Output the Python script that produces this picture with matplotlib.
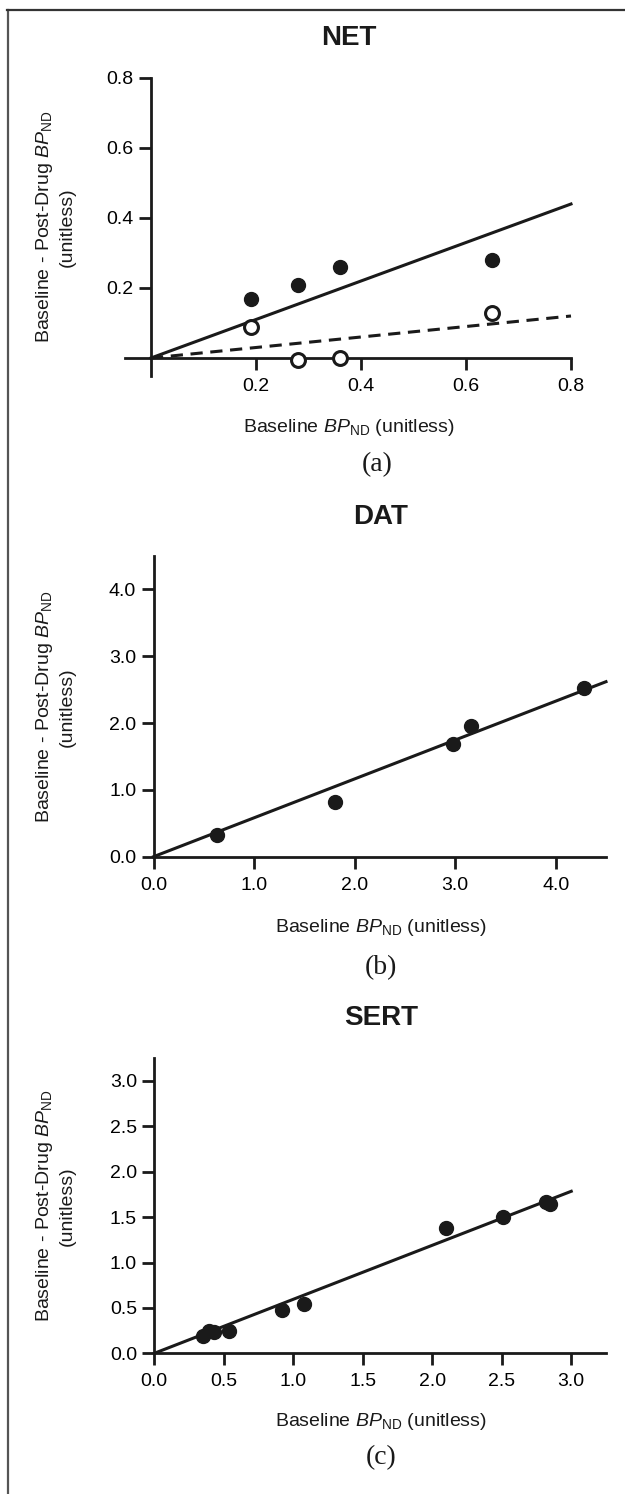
import matplotlib
matplotlib.use("Agg")
import matplotlib.pyplot as plt
from matplotlib.lines import Line2D
import numpy as np

plt.rcParams['font.family'] = ['Liberation Sans', 'DejaVu Sans']
plt.rcParams['mathtext.fontset'] = 'custom'
plt.rcParams['mathtext.rm'] = 'Liberation Sans'
plt.rcParams['mathtext.it'] = 'Liberation Sans:italic'

# NET (a)
net_x_filled = [0.19, 0.28, 0.36, 0.65]
net_y_filled = [0.17, 0.21, 0.26, 0.28]
net_x_open = [0.19, 0.28, 0.36, 0.65]
net_y_open = [0.09, -0.005, 0.0, 0.13]
net_slope_filled = 0.55
net_slope_open = 0.15

# DAT (b)
dat_x = [0.63, 1.80, 2.98, 3.16, 4.28]
dat_y = [0.33, 0.82, 1.68, 1.96, 2.53]
dat_slope = 0.582

# SERT (c)
sert_x = [0.35, 0.39, 0.43, 0.54, 0.92, 1.08, 2.10, 2.51, 2.82, 2.85]
sert_y = [0.19, 0.25, 0.23, 0.25, 0.48, 0.54, 1.38, 1.50, 1.67, 1.65]
sert_slope = 0.595

XLABEL = 'Baseline $BP_{\\rm ND}$ (unitless)'
YLABEL = 'Baseline - Post-Drug $BP_{\\rm ND}$\n(unitless)'

W, H = 625, 1494
fig = plt.figure(figsize=(W / 100, H / 100), dpi=100)


def px_axes(left, right, top, bottom):
    return fig.add_axes([left / W, 1 - bottom / H, (right - left) / W, (bottom - top) / H])


def style(ax):
    for s in ['top', 'right']:
        ax.spines[s].set_visible(False)
    for s in ['left', 'bottom']:
        ax.spines[s].set_linewidth(2.0)
        ax.spines[s].set_color('#1a1a1a')
    ax.tick_params(direction='out', length=8.5, width=2.0, color='#1a1a1a',
                   labelsize=14, pad=4)
    ax.tick_params(axis='x', pad=6)


def fit_line(ax, slope, x_end, ls='-'):
    xs = np.array([0.0, x_end])
    ax.plot(xs, slope * xs, color='#1a1a1a', lw=2.2, ls=ls, zorder=2,
            dashes=(4, 2.5) if ls == '--' else (None, None), clip_on=False)


mk = dict(marker='o', ms=10, ls='none', zorder=3, clip_on=False)

# ---- panel a ----
ax = px_axes(124.75, 571, 78, 375.5)
style(ax)
ax.spines['left'].set_position(('data', 0))
ax.spines['bottom'].set_position(('data', 0))
ax.set_xlim(-0.05, 0.8)
ax.set_ylim(-0.05, 0.8)
ax.set_xticks([0.2, 0.4, 0.6, 0.8])
ax.set_yticks([0.2, 0.4, 0.6, 0.8])
ax.set_xticklabels(['0.2', '0.4', '0.6', '0.8'])
ax.set_yticklabels(['0.2', '0.4', '0.6', '0.8'])
fit_line(ax, net_slope_filled, 0.8)
fit_line(ax, net_slope_open, 0.8, ls='--')
ax.plot(net_x_filled, net_y_filled, color='#1a1a1a', **mk)
ax.plot(net_x_open, net_y_open, mfc='white', mec='#1a1a1a', mew=2.2, **mk)

# ---- panel b ----
ax = px_axes(153.5, 606, 556, 856.7)
style(ax)
ax.set_xlim(0, 4.5)
ax.set_ylim(0, 4.5)
ax.set_xticks([0, 1, 2, 3, 4])
ax.set_yticks([0, 1, 2, 3, 4])
ax.set_xticklabels(['0.0', '1.0', '2.0', '3.0', '4.0'])
ax.set_yticklabels(['0.0', '1.0', '2.0', '3.0', '4.0'])
fit_line(ax, dat_slope, 4.5)
ax.plot(dat_x, dat_y, color='#1a1a1a', **mk)

# ---- panel c ----
ax = px_axes(154.3, 606, 1058.3, 1353.3)
style(ax)
ax.set_xlim(0, 3.25)
ax.set_ylim(0, 3.25)
ticks_c = [0, 0.5, 1.0, 1.5, 2.0, 2.5, 3.0]
ax.set_xticks(ticks_c)
ax.set_yticks(ticks_c)
ax.set_xticklabels(['%.1f' % t for t in ticks_c])
ax.set_yticklabels(['%.1f' % t for t in ticks_c])
fit_line(ax, sert_slope, 3.0)
ax.plot(sert_x, sert_y, color='#1a1a1a', **mk)

# titles, axis labels, captions (figure pixel coords)
def ftext(x, y, s, **kw):
    fig.text(x / W, 1 - y / H, s, ha='center', va='center', color='#1a1a1a', **kw)


titles = ['NET', 'DAT', 'SERT']
title_pos = [(349, 38), (381, 517), (381, 1018)]
xlab_pos = [(349, 427), (381, 927), (381, 1422)]
ylab_pos = [(55, 227), (55, 707), (55, 1206)]
caps = ['(a)', '(b)', '(c)']
cap_pos = [(377, 465), (381, 968), (381, 1458)]

for i in range(3):
    ftext(*title_pos[i], titles[i], fontsize=20, fontweight='bold')
    ftext(*xlab_pos[i], XLABEL, fontsize=14)
    ftext(*ylab_pos[i], YLABEL, fontsize=14, rotation=90, linespacing=1.3,
          multialignment='center')
    ftext(*cap_pos[i], caps[i], fontsize=20, family=['Liberation Serif', 'DejaVu Serif'])

# frame lines
fig.add_artist(Line2D([7.5 / W, 7.5 / W], [0, 1 - 10 / H], transform=fig.transFigure,
                      color='#555555', lw=1.6))
fig.add_artist(Line2D([7 / W, 1], [1 - 10 / H, 1 - 10 / H], transform=fig.transFigure,
                      color='#333333', lw=1.6))

fig.savefig('out.png', dpi=100)
